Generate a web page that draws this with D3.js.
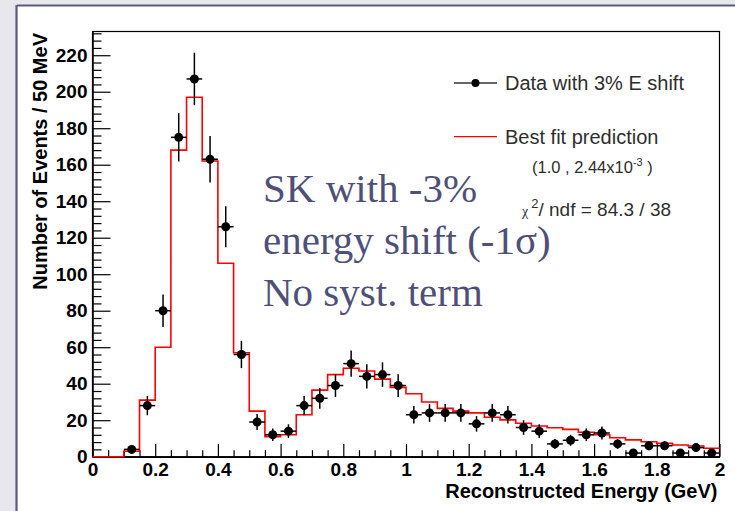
<!DOCTYPE html>
<html>
<head>
<meta charset="utf-8">
<script src="https://cdn.jsdelivr.net/npm/d3@7"></script>
<style>
  html, body { margin: 0; padding: 0; background: #e7e7ec; }
  svg { display: block; }
</style>
</head>
<body>
<svg id="chart" width="735" height="511"></svg>
<script>
// Bin layout: 40 bins of 50 MeV from 0 to 2 GeV
const binWidth = 0.05;
const binLow = d3.range(40).map(i => +(i * binWidth).toFixed(2));

// Observed counts per bin (data with 3% energy shift)
const dataCounts = [0, 0, 4, 28, 80, 175, 207, 163, 126, 56,
                    19, 12, 14, 28, 32, 39, 51, 44, 45, 39,
                    23, 24, 24, 24, 18, 24, 23, 16, 14, 7,
                    9, 12, 13, 7, 2, 6, 6, 2, 5, 2];

// Best-fit prediction per bin
const fitCounts = [0, 0, 3, 31, 60, 168, 197, 162, 106, 57,
                   25, 11, 12, 23, 36.5, 45, 48.5, 47, 42.5, 38,
                   34.5, 30, 26.5, 25, 24, 21.6, 20.2, 18.3, 16.8, 15.9,
                   15, 13.4, 12, 10.4, 9.2, 8.2, 7.3, 6.4, 5.9, 4.6];

const xMajorTicks = [0, 0.2, 0.4, 0.6, 0.8, 1, 1.2, 1.4, 1.6, 1.8, 2];
const yMajorTicks = [0, 20, 40, 60, 80, 100, 120, 140, 160, 180, 200, 220];

const svg = d3.select("#chart");

// Slide panel
svg.append("rect").attr("x", 17).attr("y", 6).attr("width", 720).attr("height", 510)
  .attr("fill", "#ffffff");
svg.append("line").attr("x1", 17).attr("x2", 735).attr("y1", 5.5).attr("y2", 5.5)
  .attr("stroke", "#5b5b7e").attr("stroke-width", 2.2);
svg.append("line").attr("x1", 16.5).attr("x2", 16.5).attr("y1", 5).attr("y2", 511)
  .attr("stroke", "#5b5b7e").attr("stroke-width", 2.2);

const plot = { left: 92.5, right: 719.5, top: 31.5, bottom: 456.7 };

const x = d3.scaleLinear().domain([0, 2]).range([plot.left, plot.right]);
const y = d3.scaleLinear().domain([0, 233]).range([plot.bottom, plot.top]);

// Frame
svg.append("rect")
  .attr("x", plot.left).attr("y", plot.top)
  .attr("width", plot.right - plot.left).attr("height", plot.bottom - plot.top)
  .attr("fill", "none").attr("stroke", "#000").attr("stroke-width", 1.2);

const tickFont = "'Liberation Sans', Arial, sans-serif";

// Y axis: major + minor ticks drawn inward
const yMinor = d3.range(0, 233, 4).filter(v => v % 20 !== 0);
const yAxisMinor = svg.append("g").attr("transform", `translate(${plot.left},0)`)
  .call(d3.axisLeft(y).tickValues(yMinor).tickSize(-9).tickFormat(""));
yAxisMinor.select(".domain").remove();

const yAxis = svg.append("g").attr("transform", `translate(${plot.left},0)`)
  .call(d3.axisLeft(y).tickValues(yMajorTicks).tickSize(-18).tickPadding(5).tickSizeOuter(0));
yAxis.select(".domain").attr("stroke-width", 1.5);
yAxis.selectAll("text")
  .attr("font-family", tickFont).attr("font-weight", "bold").attr("font-size", 19)
  .attr("fill", "#000");

// X axis
const xMinor = d3.range(0, 2.001, 0.05).map(v => +v.toFixed(2))
  .filter(v => Math.abs(v / 0.2 - Math.round(v / 0.2)) > 1e-6);
const xAxisMinor = svg.append("g").attr("transform", `translate(0,${plot.bottom})`)
  .call(d3.axisBottom(x).tickValues(xMinor).tickSize(-6.5).tickFormat(""));
xAxisMinor.select(".domain").remove();

const xAxis = svg.append("g").attr("transform", `translate(0,${plot.bottom})`)
  .call(d3.axisBottom(x).tickValues(xMajorTicks).tickSize(-12.7).tickPadding(6).tickSizeOuter(0)
    .tickFormat(d3.format("~g")));
xAxis.select(".domain").attr("stroke-width", 1.5);
xAxis.selectAll("text")
  .attr("font-family", tickFont).attr("font-weight", "bold").attr("font-size", 19)
  .attr("fill", "#000");

svg.selectAll(".tick line").attr("stroke", "#000").attr("stroke-width", 1.2);

// Axis titles
svg.append("text")
  .attr("x", plot.right - 2).attr("y", 498)
  .attr("text-anchor", "end")
  .attr("font-family", tickFont).attr("font-weight", "bold").attr("font-size", 20)
  .text("Reconstructed Energy (GeV)");

svg.append("text")
  .attr("transform", "translate(46.5,33) rotate(-90)")
  .attr("text-anchor", "end")
  .attr("font-family", tickFont).attr("font-weight", "bold").attr("font-size", 20)
  .text("Number of Events / 50 MeV");

// Best-fit prediction as a step histogram
const stepPts = [[0, 0]];
binLow.forEach((lo, i) => {
  stepPts.push([lo, fitCounts[i]]);
  stepPts.push([lo + binWidth, fitCounts[i]]);
});
svg.append("path")
  .datum(stepPts)
  .attr("fill", "none").attr("stroke", "#ff0000").attr("stroke-width", 1.6)
  .attr("d", d3.line().x(d => x(d[0])).y(d => y(d[1])));

// Data points with error bars
const pts = binLow.map((lo, i) => ({ c: lo + binWidth / 2, lo, hi: lo + binWidth, n: dataCounts[i] }))
  .filter(d => d.n > 0);

const g = svg.append("g");
g.selectAll("line.ex").data(pts).join("line").attr("class", "ex")
  .attr("x1", d => x(d.lo)).attr("x2", d => x(d.hi))
  .attr("y1", d => y(d.n)).attr("y2", d => y(d.n))
  .attr("stroke", "#000").attr("stroke-width", 1.5);
g.selectAll("line.ey").data(pts).join("line").attr("class", "ey")
  .attr("x1", d => x(d.c)).attr("x2", d => x(d.c))
  .attr("y1", d => y(d.n + Math.sqrt(d.n))).attr("y2", d => y(Math.max(0, d.n - Math.sqrt(d.n))))
  .attr("stroke", "#000").attr("stroke-width", 1.5);
g.selectAll("circle").data(pts).join("circle")
  .attr("cx", d => x(d.c)).attr("cy", d => y(d.n)).attr("r", 4.5).attr("fill", "#000");

// Legend
const legendInk = "#2e2e2e";
svg.append("line").attr("x1", 454).attr("x2", 497).attr("y1", 83).attr("y2", 83)
  .attr("stroke", "#333").attr("stroke-width", 1.3);
svg.append("circle").attr("cx", 475.5).attr("cy", 83).attr("r", 4).attr("fill", "#000");
svg.append("text").attr("x", 505).attr("y", 90)
  .attr("font-family", tickFont).attr("font-size", 20).attr("fill", legendInk)
  .text("Data with 3% E shift");

svg.append("line").attr("x1", 454).attr("x2", 497).attr("y1", 136.7).attr("y2", 136.7)
  .attr("stroke", "#ff0000").attr("stroke-width", 1.3);
svg.append("text").attr("x", 505).attr("y", 143.5)
  .attr("font-family", tickFont).attr("font-size", 20).attr("fill", legendInk)
  .text("Best fit prediction");

const par = svg.append("text").attr("x", 532).attr("y", 173)
  .attr("font-family", tickFont).attr("font-size", 16.5).attr("fill", legendInk);
par.append("tspan").text("(1.0 , 2.44x10");
par.append("tspan").attr("dy", -7).attr("font-size", 11).text("-3");
par.append("tspan").attr("dy", 7).text(" )");

const chi = svg.append("text").attr("x", 522).attr("y", 216)
  .attr("font-family", tickFont).attr("font-size", 19).attr("fill", legendInk);
chi.append("tspan").attr("font-size", 14).attr("font-family", "'Liberation Serif', serif").text("χ");
chi.append("tspan").attr("dx", 3).attr("dy", -8).attr("font-size", 13).text("2");
chi.append("tspan").attr("dy", 8).text("/ ndf = 84.3 / 38");

// Slide annotation
const note = svg.append("text")
  .attr("font-family", "'Liberation Serif', 'Times New Roman', serif")
  .attr("font-size", 41).attr("fill", "#4f5078");
[["SK with -3%", 201.7], ["energy shift (-1σ)", 253.5], ["No syst. term", 305.5]].forEach(([t, by]) => {
  note.append("tspan").attr("x", 263).attr("y", by).text(t);
});
</script>
</body>
</html>
